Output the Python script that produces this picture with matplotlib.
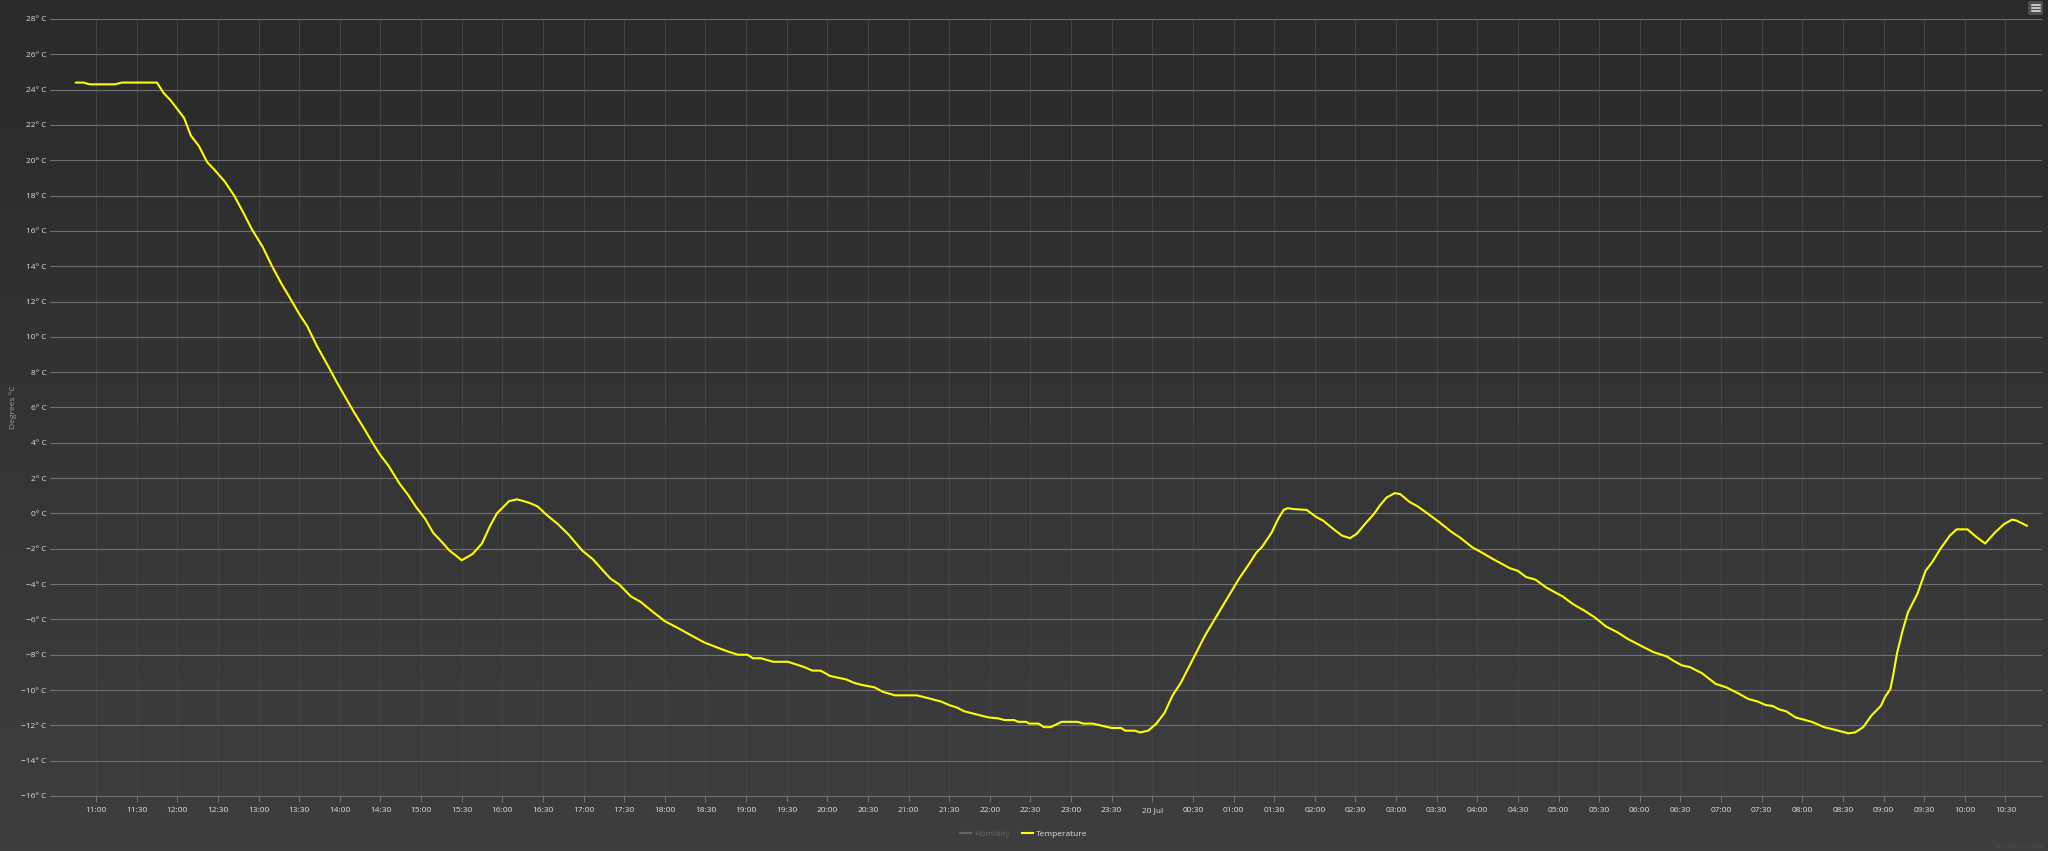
import matplotlib
matplotlib.use("Agg")
import matplotlib.pyplot as plt
import matplotlib.dates as mdates
from matplotlib.lines import Line2D
from matplotlib.patches import FancyBboxPatch
import numpy as np
import pandas as pd

plt.rcParams['font.family'] = ['Open Sans', 'DejaVu Sans']

# minutes after 19 Jul 00:00, temperature in degrees C
minutes = [645, 651, 655, 674, 679, 705, 710, 715, 720, 725, 730, 736, 742, 747,
           755, 762, 769, 775, 783, 790, 797, 804, 810, 816, 823, 831, 838, 844,
           850, 858, 865, 870, 876, 884, 890, 896, 903, 909, 914, 921, 926, 930,
           938, 945, 951, 956, 965, 971, 980, 986, 993, 1001, 1009, 1019, 1027,
           1034, 1040, 1046, 1055, 1062, 1070, 1080, 1090, 1097, 1109, 1119, 1126,
           1134, 1141, 1145, 1151, 1160, 1171, 1183, 1189, 1195, 1202, 1214, 1220,
           1225, 1235, 1241, 1250, 1266, 1274, 1284, 1290, 1296, 1301, 1319, 1326,
           1331, 1338, 1341, 1347, 1349, 1356, 1360, 1365, 1373, 1385, 1389, 1396,
           1410, 1417, 1420, 1427, 1431, 1437, 1443, 1449, 1455, 1461, 1470, 1479,
           1486, 1495, 1504, 1512, 1517, 1521, 1528, 1533, 1537, 1540, 1544, 1554,
           1561, 1566, 1574, 1580, 1586, 1591, 1597, 1604, 1608, 1613, 1619, 1623,
           1630, 1636, 1645, 1652, 1661, 1667, 1676, 1683, 1692, 1704, 1710, 1716,
           1723, 1731, 1743, 1751, 1759, 1767, 1775, 1784, 1791, 1801, 1810, 1820,
           1825, 1831, 1837, 1846, 1856, 1864, 1873, 1880, 1887, 1893, 1898, 1903,
           1908, 1915, 1927, 1936, 1944, 1954, 1959, 1965, 1971, 1978, 1981, 1985,
           1987, 1990, 1994, 1998, 2005, 2011, 2016, 2022, 2029, 2034, 2042, 2048,
           2055, 2062, 2069, 2075, 2078, 2086]
temperature = [24.4, 24.4, 24.3, 24.3, 24.4, 24.4, 23.8, 23.4, 22.9, 22.4, 21.4, 20.8,
               19.9, 19.5, 18.8, 18.0, 17.0, 16.1, 15.1, 14.0, 13.0, 12.1, 11.3, 10.6,
               9.5, 8.4, 7.4, 6.6, 5.8, 4.8, 3.9, 3.3, 2.7, 1.7, 1.1, 0.4, -0.3, -1.1,
               -1.5, -2.1, -2.4, -2.65, -2.3, -1.7, -0.7, 0.0, 0.7, 0.8, 0.6, 0.4,
               -0.1, -0.6, -1.2, -2.1, -2.6, -3.2, -3.7, -4.0, -4.7, -5.0, -5.5, -6.1,
               -6.5, -6.8, -7.3, -7.6, -7.8, -8.0, -8.0, -8.2, -8.2, -8.4, -8.4, -8.7,
               -8.9, -8.9, -9.2, -9.4, -9.6, -9.7, -9.85, -10.1, -10.3, -10.3, -10.45,
               -10.65, -10.85, -11.0, -11.2, -11.55, -11.6, -11.7, -11.7, -11.8, -11.8,
               -11.9, -11.9, -12.1, -12.1, -11.8, -11.8, -11.9, -11.9, -12.15, -12.15,
               -12.3, -12.3, -12.4, -12.3, -11.9, -11.3, -10.3, -9.6, -8.25, -6.9,
               -6.0, -4.85, -3.7, -2.8, -2.2, -1.9, -1.1, -0.3, 0.2, 0.3, 0.25, 0.2,
               -0.2, -0.4, -0.9, -1.25, -1.4, -1.15, -0.6, 0.0, 0.45, 0.9, 1.15, 1.1,
               0.65, 0.4, -0.1, -0.5, -1.05, -1.35, -1.9, -2.2, -2.6, -3.1, -3.25,
               -3.6, -3.75, -4.2, -4.7, -5.15, -5.5, -5.9, -6.4, -6.75, -7.1, -7.5,
               -7.85, -8.1, -8.35, -8.6, -8.7, -9.05, -9.65, -9.85, -10.2, -10.5,
               -10.65, -10.85, -10.9, -11.1, -11.2, -11.55, -11.8, -12.1, -12.25,
               -12.45, -12.4, -12.1, -11.45, -10.9, -10.4, -9.95, -9.2, -7.9, -6.65,
               -5.6, -4.55, -3.25, -2.75, -2.0, -1.25, -0.9, -0.9, -1.3, -1.7, -1.1,
               -0.6, -0.35, -0.4, -0.7]

y_ticks = list(range(-16, 29, 2))
x_range_minutes = [626, 2097]
first_tick, last_tick = "2019-07-19 11:00", "2019-07-20 10:30"

day0 = pd.Timestamp("2019-07-19")
times = day0 + pd.to_timedelta(minutes, unit="min")

W, H = 2048, 851
fig = plt.figure(figsize=(W / 100, H / 100), dpi=100)

# background gradient (dark theme)
bg = fig.add_axes([0, 0, 1, 1], zorder=-10)
top = np.array([0x2a, 0x2a, 0x2b]) / 255
bot = np.array([0x3e, 0x3e, 0x40]) / 255
g = np.linspace(0, 1, 256)[:, None, None]
grad = top * (1 - g) + bot * g
bg.imshow(np.repeat(grad, 2, axis=1), aspect="auto", extent=[0, 1, 0, 1])
bg.axis("off")

left, right = 50 / W, 2042 / W
bottom, topy = 1 - 796 / H, 1 - 19 / H
ax = fig.add_axes([left, bottom, right - left, topy - bottom])
ax.set_facecolor("none")

ax.plot(times, temperature, color="#FFFF00", lw=1.5, solid_joinstyle="round",
        solid_capstyle="round", zorder=5)

ax.set_ylim(-16, 28)
ax.set_xlim(day0 + pd.Timedelta(minutes=x_range_minutes[0]),
            day0 + pd.Timedelta(minutes=x_range_minutes[1]))

ax.set_yticks(y_ticks)
ax.set_yticklabels([f"{v}° C".replace("-", "\u2212") for v in y_ticks])
ax.yaxis.grid(True, color="#707073", lw=0.8)
ax.tick_params(axis="y", length=0, pad=2.5, labelsize=6, labelcolor="#E0E0E3")

ticks = pd.date_range(first_tick, last_tick, freq="30min")
ax.set_xticks(ticks)


def fmt(x, pos):
    d = mdates.num2date(x)
    if d.hour == 0 and d.minute == 0:
        return d.strftime("%d %b").lstrip("0")
    return d.strftime("%H:%M")


ax.xaxis.set_major_formatter(plt.FuncFormatter(fmt))
ax.xaxis.grid(True, color="#444447", lw=0.7)
ax.tick_params(axis="x", length=4, width=0.7, color="#707073", pad=4,
               labelsize=6, labelcolor="#E0E0E3")

for s in ["top", "left", "right"]:
    ax.spines[s].set_visible(False)
ax.spines["bottom"].set_color("#707073")
ax.spines["bottom"].set_linewidth(0.8)
ax.set_axisbelow(True)

fig.text(12.7 / W, (bottom + topy) / 2, "Degrees °C", rotation=90, ha="center",
         va="center", fontsize=6, color="#A0A0A3")

# legend
handles = [Line2D([], [], color="#666666", lw=1.5),
           Line2D([], [], color="#FFFF00", lw=1.5)]
leg = fig.legend(handles, ["Humidity", "Temperature"], loc="center",
                 bbox_to_anchor=(1024 / W, 1 - 834 / H), ncol=2, frameon=False,
                 fontsize=6, handlelength=1.3, handletextpad=0.4, columnspacing=1.4)
leg.get_texts()[0].set_color("#666666")
leg.get_texts()[1].set_color("#E0E0E3")

# credits
fig.text(2044 / W, 1 - 846 / H, "Domoticz.com", ha="right", va="center",
         fontsize=5.5, color="#4c4c4f")

# export menu button
btn = FancyBboxPatch((2028 / W, 1 - 15 / H), 15 / W, 14 / H,
                     boxstyle="round,pad=0,rounding_size=0.001",
                     transform=fig.transFigure, facecolor="#505053", edgecolor="none")
fig.patches.append(btn)
for yy in [4.5, 7.5, 10.5]:
    fig.add_artist(Line2D([2031.5 / W, 2040 / W], [1 - yy / H, 1 - yy / H],
                          color="#E0E0E3", lw=1.2, transform=fig.transFigure))

fig.savefig("out.png", dpi=100)
